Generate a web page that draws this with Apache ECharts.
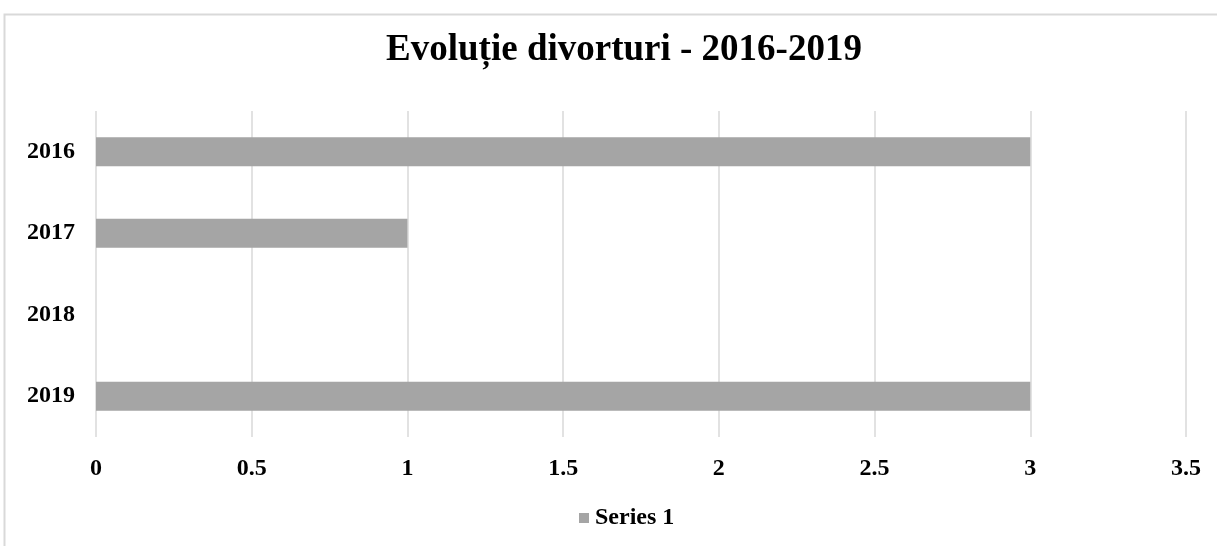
<!DOCTYPE html>
<html>
<head>
<meta charset="utf-8">
<script src="https://cdn.jsdelivr.net/npm/echarts@6/dist/echarts.min.js"></script>
<style>
  html, body { margin: 0; padding: 0; background: #fff; }
  #chart { width: 1217px; height: 546px; }
</style>
</head>
<body>
<div id="chart"></div>
<script>
const title = "Evoluție divorturi - 2016-2019";
const years = ["2016", "2017", "2018", "2019"];
const divorces = [3, 1, 0, 3];
const seriesName = "Series 1";

const font = "'Liberation Serif', 'Times New Roman', serif";
const chart = echarts.init(document.querySelector("#chart"));

chart.setOption({
  animation: false,
  title: {
    text: title,
    left: 619,
    textAlign: "center",
    top: 27,
    textStyle: { fontFamily: font, fontSize: 37, fontWeight: "bold", color: "#000" }
  },
  graphic: [{
    type: "rect",
    shape: { x: 4.5, y: 14.5, width: 1400, height: 700 },
    style: { fill: "none", stroke: "#d9d9d9", lineWidth: 2 },
    silent: true
  }],
  legend: {
    bottom: 11,
    left: 574,
    itemWidth: 10,
    itemHeight: 10,
    itemGap: 4,
    icon: "rect",
    textStyle: { fontFamily: font, fontSize: 24, fontWeight: "bold", color: "#000", padding: [0, 0, 0, 1] },
    data: [seriesName]
  },
  grid: { left: 96, right: 31, top: 111, bottom: 109, containLabel: false },
  xAxis: {
    type: "value",
    min: 0,
    max: 3.5,
    interval: 0.5,
    axisLine: { show: false },
    axisTick: { show: false },
    axisLabel: { margin: 20, fontFamily: font, fontSize: 24, fontWeight: "bold", color: "#000" },
    splitLine: { lineStyle: { color: "#d9d9d9", width: 1.5 } }
  },
  yAxis: {
    type: "category",
    data: years,
    inverse: true,
    axisLine: { show: false },
    axisTick: { show: false },
    axisLabel: { margin: 21, fontFamily: font, fontSize: 24, fontWeight: "bold", color: "#000" }
  },
  series: [{
    name: seriesName,
    type: "bar",
    data: divorces,
    barWidth: 29,
    itemStyle: { color: "#a5a5a5" }
  }]
});
</script>
</body>
</html>
